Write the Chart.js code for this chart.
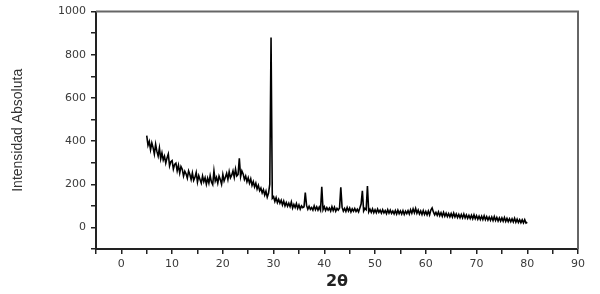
<!DOCTYPE html>
<html>
<head>
<meta charset="utf-8">
<script src="https://cdn.jsdelivr.net/npm/chart.js@4.4.1/dist/chart.umd.min.js"></script>
<style>
  html, body { margin: 0; padding: 0; background: #fff; }
  #wrap { width: 600px; height: 294px; }
</style>
</head>
<body>
<div id="wrap"><canvas id="xrdChart"></canvas></div>
<script>
// scan grid: 2theta from 5 to 80 deg, one reading every 0.25 deg
const startAngle = 5
const angleStep = 0.25

// intensity readings, one row per degree (x.00, x.25, x.50, x.75)
const intensity = [
    425, 380, 398, 360,   // 5
    392, 370, 340, 385,   // 6
    352, 330, 368, 318,   // 7
    345, 312, 330, 298,   // 8
    322, 340, 285, 305,   // 9
    310, 270, 292, 298,   // 10
    262, 288, 252, 282,   // 11
    270, 238, 260, 248,   // 12
    228, 262, 245, 222,   // 13
    252, 218, 232, 255,   // 14
    210, 240, 222, 205,   // 15
    238, 212, 230, 200,   // 16
    228, 205, 240, 210,   // 17
    198, 262, 215, 232,   // 18
    205, 238, 222, 200,   // 19
    245, 215, 232, 250,   // 20
    222, 258, 230, 242,   // 21
    262, 232, 270, 238,   // 22
    245, 320, 235, 262,   // 23
    248, 222, 238, 212,   // 24
    230, 205, 225, 195,   // 25
    212, 188, 205, 178,   // 26
    195, 170, 182, 160,   // 27
    175, 150, 168, 140,   // 28
    158, 200, 880, 135,   // 29
    142, 120, 138, 115,   // 30
    130, 112, 126, 104,   // 31
    122, 100, 115, 98,    // 32
    112, 96, 118, 90,     // 33
    106, 92, 110, 88,     // 34
    104, 85, 100, 92,     // 35
    96, 162, 102, 84,     // 36
    98, 84, 92, 80,       // 37
    100, 82, 95, 80,      // 38
    94, 80, 188, 82,      // 39
    96, 78, 92, 80,       // 40
    90, 76, 96, 78,       // 41
    94, 75, 88, 80,       // 42
    90, 186, 94, 76,      // 43
    88, 74, 92, 76,       // 44
    90, 72, 86, 75,       // 45
    88, 74, 84, 72,       // 46
    90, 108, 170, 76,     // 47
    88, 82, 192, 72,      // 48
    84, 70, 86, 68,       // 49
    82, 68, 85, 70,       // 50
    80, 66, 82, 67,       // 51
    78, 64, 82, 66,       // 52
    80, 65, 76, 63,       // 53
    78, 62, 80, 64,       // 54
    76, 62, 78, 60,       // 55
    75, 64, 78, 62,       // 56
    82, 66, 86, 68,       // 57
    88, 66, 80, 62,       // 58
    76, 60, 78, 60,       // 59
    74, 58, 76, 58,       // 60
    80, 90, 72, 58,       // 61
    70, 56, 72, 54,       // 62
    68, 52, 70, 52,       // 63
    66, 50, 64, 49,       // 64
    64, 48, 66, 48,       // 65
    62, 46, 60, 45,       // 66
    60, 44, 62, 44,       // 67
    58, 42, 56, 41,       // 68
    56, 40, 58, 40,       // 69
    54, 38, 52, 37,       // 70
    52, 36, 54, 36,       // 71
    50, 34, 48, 33,       // 72
    48, 32, 50, 32,       // 73
    46, 30, 44, 29,       // 74
    44, 29, 46, 28,       // 75
    42, 27, 40, 26,       // 76
    40, 25, 42, 24,       // 77
    38, 23, 36, 22,       // 78
    35, 21, 36, 20,       // 79
    24                    // 80
]

// axis ranges / ticks
const xMin = -5, xMax = 90, xStep = 5
const yMin = -100, yMax = 1000, yStep = 100
const xLabelEvery = 10
const yLabelEvery = 200

const axisColor = '#222'
const labelColor = '#3a3a3a'

const frameBorder = {
    id: 'frameBorder',
    afterDraw: (chart) => {
        const {ctx, chartArea} = chart
        ctx.save()
        ctx.strokeStyle = '#666'
        ctx.lineWidth = 2
        ctx.beginPath()
        ctx.moveTo(chartArea.left, chartArea.top)
        ctx.lineTo(chartArea.right, chartArea.top)
        ctx.lineTo(chartArea.right, chartArea.bottom)
        ctx.stroke()
        ctx.restore()
    }
}

const points = intensity.map((v, i) => ({ x: startAngle + i * angleStep, y: v }))

new Chart(document.getElementById('xrdChart'), {
    type: 'line',
    data: {
        datasets: [{
            data: points,
            borderColor: '#000',
            borderWidth: 1.6,
            pointRadius: 0,
            tension: 0,
            fill: false
        }]
    },
    options: {
        responsive: true,
        maintainAspectRatio: false,
        animation: false,
        layout: {
            padding: { top: 11, right: 22, bottom: 0, left: 0 }
        },
        plugins: {
            legend: { display: false },
            tooltip: { enabled: false }
        },
        scales: {
            x: {
                type: 'linear',
                min: xMin,
                max: xMax,
                afterFit: (scale) => { scale.height = 45 },
                border: { display: true, color: axisColor, width: 2 },
                grid: {
                    drawOnChartArea: false,
                    drawTicks: true,
                    tickLength: 5,
                    color: axisColor,
                    lineWidth: 1.5
                },
                ticks: {
                    stepSize: xStep,
                    autoSkip: false,
                    maxRotation: 0,
                    padding: 4,
                    color: labelColor,
                    font: { family: 'DejaVu Sans', size: 11 },
                    callback: (value) => value % xLabelEvery === 0 ? value : ''
                },
                title: {
                    display: true,
                    text: '2θ',
                    color: '#222',
                    padding: { top: 0, bottom: 3 },
                    font: { family: 'DejaVu Sans', size: 16, weight: 'bold' }
                }
            },
            y: {
                min: yMin,
                max: yMax,
                afterFit: (scale) => { scale.width = 96 },
                border: { display: true, color: axisColor, width: 2 },
                grid: {
                    drawOnChartArea: false,
                    drawTicks: true,
                    tickLength: 5,
                    color: axisColor,
                    lineWidth: 1.5
                },
                ticks: {
                    stepSize: yStep,
                    autoSkip: false,
                    padding: 5,
                    color: labelColor,
                    font: { family: 'DejaVu Sans', size: 11 },
                    callback: (value) => (value >= 0 && value % yLabelEvery === 0) ? value : ''
                },
                title: {
                    display: true,
                    text: 'Intensidad Absoluta',
                    color: '#333',
                    padding: { top: 10, bottom: 0 },
                    font: { family: "'Liberation Sans Narrow', 'Liberation Sans', Arial", size: 14 }
                }
            }
        }
    },
    plugins: [frameBorder]
})
</script>
</body>
</html>
